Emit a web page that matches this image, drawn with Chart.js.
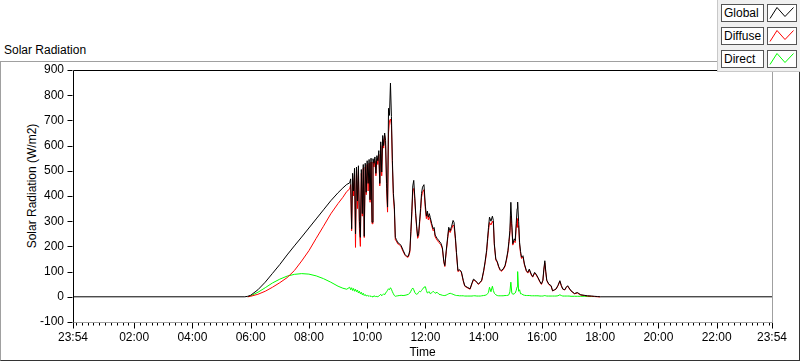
<!DOCTYPE html>
<html>
<head>
<meta charset="utf-8">
<title>Solar Radiation</title>
<script src="https://cdn.jsdelivr.net/npm/chart.js@4.4.0/dist/chart.umd.min.js"></script>
<style>
  body { margin: 0; background: #fff; font-family: 'Liberation Sans', Arial, sans-serif; }
  #wrap { position: relative; width: 800px; height: 361px; overflow: hidden; }
  #frame { position: absolute; left: 0; top: 61px; width: 800px; height: 300px; box-sizing: border-box;
           border-top: 1px solid #a0a0a0; border-left: 1px solid #a0a0a0;
           border-right: 1px solid #333; border-bottom: 1px solid #333; }
  #title { position: absolute; left: 4px; top: 43px; font-size: 12px; color: #000; white-space: nowrap; }
  #ytitle { position: absolute; left: 32px; top: 186px; font-size: 12px; color: #000; white-space: nowrap;
            transform: translate(-50%, -50%) rotate(-90deg); }
  #chart { position: absolute; left: 0; top: 0; }
  #legend { position: absolute; left: 717px; top: 0; width: 83px; height: 72px; box-sizing: border-box;
            background: #f0f0f0; border-left: 1px solid #c8c8c8; border-bottom: 1px solid #c8c8c8; }
  .legend-label { position: absolute; left: 3px; width: 43px; height: 18px; box-sizing: border-box;
                  border: 1px solid #555; background: #fff; font-size: 12px; line-height: 16px; padding-left: 2px;
                  color: #000; white-space: nowrap; overflow: hidden; }
  .legend-swatch { position: absolute; left: 49px; width: 30px; height: 18px; box-sizing: border-box;
                   border: 1px solid #555; background: #fff; }
  .legend-swatch svg { display: block; }
</style>
</head>
<body>
<div id="wrap">
  <div id="frame"></div>
  <div id="title">Solar Radiation</div>
  <div id="ytitle">Solar Radiation (W/m2)</div>
  <canvas id="chart" width="800" height="361"></canvas>
  <div id="legend"></div>
</div>
<script>
// --- data (first sample is 23:54 of the previous day) ---
const times = [
  '23:54', '05:48', '05:54', '06:00', '06:15', '06:30', '06:45', '07:00', '07:15', '07:30', '07:45',
  '08:00', '08:15', '08:30', '08:45', '09:00', '09:10', '09:18', '09:24',
  '09:26', '09:28', '09:30', '09:32', '09:34', '09:36', '09:38', '09:40', '09:42', '09:44', '09:46', '09:48',
  '09:50', '09:52', '09:54', '09:56', '09:58', '10:00', '10:02', '10:04', '10:06', '10:08', '10:10', '10:12',
  '10:14', '10:16', '10:18', '10:20', '10:22', '10:24', '10:26', '10:28', '10:30', '10:32', '10:34', '10:36',
  '10:38', '10:40', '10:42', '10:44', '10:46', '10:48', '10:50', '10:52', '10:54', '10:56', '10:58', '11:00',
  '11:03', '11:06', '11:10', '11:14', '11:18', '11:22', '11:25', '11:28', '11:30', '11:32', '11:34', '11:36',
  '11:38', '11:40', '11:42', '11:44', '11:46', '11:48', '11:50', '11:52', '11:54', '11:57',
  '12:00', '12:02', '12:04', '12:06', '12:08', '12:10', '12:13', '12:16', '12:18', '12:20', '12:24', '12:28',
  '12:32', '12:35', '12:38', '12:40', '12:43', '12:46', '12:48', '12:51', '12:54', '12:57', '12:59',
  '13:02', '13:04', '13:07', '13:10', '13:14', '13:18', '13:21', '13:26', '13:32', '13:36', '13:39', '13:42',
  '13:46', '13:49', '13:53', '13:56',
  '14:00', '14:03', '14:06', '14:08', '14:10', '14:12', '14:15', '14:18', '14:20', '14:22', '14:25', '14:28',
  '14:31', '14:34', '14:36', '14:40', '14:44', '14:47', '14:50', '14:52', '14:54', '14:56', '14:58',
  '15:00', '15:03', '15:05', '15:07', '15:09', '15:10', '15:12', '15:14', '15:16', '15:18', '15:21', '15:24',
  '15:28', '15:31', '15:34', '15:38', '15:41', '15:45', '15:48', '15:52', '15:56', '15:59',
  '16:02', '16:04', '16:06', '16:08', '16:10', '16:14', '16:19', '16:22', '16:26', '16:29', '16:33', '16:37',
  '16:40', '16:43', '16:47', '16:50', '16:53', '16:56',
  '17:00', '17:07', '17:13', '17:20', '17:27', '17:34', '17:42', '17:48', '17:55', '18:00', '23:54'
];

const globalRad = [
  0, 0, 2, 6, 28, 58, 93, 128, 166, 202, 237,
  273, 309, 345, 381, 413, 432, 446, 452,
  468, 270, 490, 420, 510, 250, 515, 380, 520, 300, 236, 505,
  330, 525, 240, 530, 415, 540, 450, 545, 385, 550, 296, 548,
  530, 555, 490, 560, 540, 580, 450, 615, 495, 640, 600, 650,
  620, 449, 356, 748, 720, 848, 715, 540, 410, 360, 236, 228,
  215, 212, 203, 185, 168, 160, 162, 185, 260, 340, 440, 462,
  400, 330, 280, 240, 250, 300, 350, 410, 435, 445,
  360, 320, 340, 316, 330, 315, 290, 270, 275, 245, 232, 222,
  212, 195, 140, 124, 185, 240, 276, 262, 280, 303, 295,
  230, 176, 104, 108, 100, 65, 44, 38, 32, 55, 70, 66,
  58, 51, 58, 66,
  104, 140, 183, 230, 276, 316, 300, 320, 303, 210, 150, 140,
  120, 108, 104, 110, 124, 150, 183, 220, 263, 375, 290,
  211, 230, 223, 290, 350, 376, 300, 216, 180, 157, 163, 130,
  104, 97, 110, 90, 80, 97, 90, 76, 60, 51,
  66, 110, 143, 100, 66, 51, 44, 24, 28, 31, 45, 64,
  45, 31, 28, 38, 44, 35,
  24, 13, 17, 8, 6, 4, 3, 2, 1, 0, 0
];

const diffuseRad = [
  null, null, 0, 2, 10, 22, 38, 56, 76, 104, 142,
  183, 232, 280, 329, 370, 395, 418, 428,
  445, 262, 470, 400, 485, 196, 500, 350, 505, 270, 200, 490,
  320, 510, 235, 515, 405, 525, 420, 530, 375, 535, 290, 535,
  515, 540, 480, 548, 525, 565, 440, 600, 480, 625, 590, 640,
  600, 430, 336, 650, 700, 705, 680, 520, 395, 345, 225, 222,
  210, 208, 198, 180, 165, 157, 158, 178, 250, 325, 420, 430,
  390, 322, 272, 232, 240, 290, 335, 395, 415, 425,
  345, 310, 330, 305, 318, 305, 282, 262, 268, 238, 225, 215,
  206, 190, 136, 120, 180, 232, 265, 255, 270, 285, 280,
  222, 170, 100, 104, 97, 62, 42, 36, 30, 52, 67, 64,
  56, 49, 56, 64,
  100, 135, 176, 220, 262, 295, 285, 300, 290, 205, 146, 136,
  117, 105, 101, 107, 120, 145, 177, 212, 250, 320, 275,
  205, 222, 215, 272, 310, 276, 282, 206, 172, 152, 158, 126,
  101, 94, 106, 87, 78, 94, 87, 74, 58, 49,
  64, 105, 135, 96, 64, 49, 42, 23, 27, 30, 43, 61,
  43, 30, 27, 36, 42, 33,
  23, 12, 15, 7, 5, 3, 2, 1, 0, 0, null
];

const directRad = [
  null, null, 0, 4, 18, 36, 55, 70, 82, 89, 92,
  90, 83, 72, 58, 42, 34, 30, 38,
  28, 36, 25, 33, 22, 30, 20, 27, 15, 22, 12, 18,
  8, 14, 5, 9, 3, 6, 2, 5, 1, 4, 0, 3,
  1, 4, 0, 2, 0, 3, 6, 10, 4, 8, 12, 8,
  15, 20, 26, 32, 28, 36, 30, 20, 12, 5, 2, 3,
  4, 5, 6, 5, 6, 8, 10, 15, 22, 30, 35, 28,
  18, 12, 10, 12, 18, 22, 20, 25, 30, 38,
  40, 25, 15, 18, 20, 12, 16, 22, 18, 14, 18, 10,
  8, 6, 5, 5, 7, 10, 12, 14, 12, 10, 8,
  6, 5, 5, 4, 4, 4, 3, 3, 3, 3, 4, 4,
  3, 3, 3, 4,
  5, 6, 8, 12, 18, 38, 20, 42, 25, 14, 8, 5,
  4, 4, 4, 4, 5, 5, 6, 8, 20, 58, 15,
  10, 12, 15, 25, 40, 100, 22, 28, 12, 12, 8, 6,
  5, 5, 5, 4, 4, 4, 4, 4, 3, 3,
  3, 4, 5, 4, 3, 3, 3, 3, 3, 3, 4, 8,
  5, 3, 3, 3, 3, 3,
  2, 2, 2, 2, 2, 1, 1, 1, null, null, null
];

const seriesNames = ['Global', 'Diffuse', 'Direct'];
const seriesColors = ['#000000', '#ff0000', '#00ff00'];

const xTickLabels = ['23:54', '02:00', '04:00', '06:00', '08:00', '10:00', '12:00',
                     '14:00', '16:00', '18:00', '20:00', '22:00', '23:54'];
const yMin = -100, yMax = 900, yStep = 100;
const minorStep = 12; // minutes between small ticks on the time axis

function toMin(s) {
  const p = s.split(':');
  return Number(p[0]) * 60 + Number(p[1]);
}

// the first entry of each time list belongs to the day before
const minutes = times.map((t, i) => i === 0 ? toMin(t) - 1440 : toMin(t));
const xTickValues = xTickLabels.map((t, i) => i === 0 ? toMin(t) - 1440 : toMin(t));
const xMin = xTickValues[0], xMax = xTickValues[xTickValues.length - 1];

const FONT = "'Liberation Sans', Arial, sans-serif";

function points(values) {
  return minutes.map((m, i) => ({ x: m, y: values[i] }));
}

// Cadre du graphe + graduations (petites et grandes)
const plotFrame = {
  id: 'plotFrame',
  afterDraw(chart) {
    const { ctx, chartArea: a, scales: { x, y } } = chart;
    const L = Math.round(a.left) + 0.5, R = Math.round(a.right) + 0.5;
    const T = Math.round(a.top) + 0.5, B = Math.round(a.bottom) + 0.5;
    ctx.save();
    ctx.lineWidth = 1;

    ctx.strokeStyle = '#000';
    ctx.beginPath();
    y.ticks.forEach(t => {
      const py = Math.round(y.getPixelForValue(t.value)) + 0.5;
      ctx.moveTo(L - 6, py);
      ctx.lineTo(L - 1, py);
    });
    x.ticks.forEach(t => {
      const px = Math.round(x.getPixelForValue(t.value)) + 0.5;
      ctx.moveTo(px, B);
      ctx.lineTo(px, B + 6);
    });
    for (let m = 0; m < xMax; m += minorStep) {
      if (m > 0 && m % 120 === 0) continue;
      const px = Math.round(x.getPixelForValue(m)) + 0.5;
      ctx.moveTo(px, B);
      ctx.lineTo(px, B + 3);
    }
    ctx.stroke();

    ctx.strokeStyle = '#a0a0a0';
    ctx.beginPath();
    ctx.moveTo(L, B); ctx.lineTo(R, B); ctx.lineTo(R, T);
    ctx.stroke();

    ctx.strokeStyle = '#000';
    ctx.beginPath();
    ctx.moveTo(L, B); ctx.lineTo(L, T); ctx.lineTo(R, T);
    ctx.stroke();
    ctx.restore();
  }
};

function buildLegend() {
  const box = document.getElementById('legend');
  box.innerHTML = '';
  seriesNames.forEach((name, i) => {
    const top = 4 + i * 23;
    const label = document.createElement('div');
    label.className = 'legend-label';
    label.style.top = top + 'px';
    label.textContent = name;
    box.appendChild(label);

    const sw = document.createElement('div');
    sw.className = 'legend-swatch';
    sw.style.top = top + 'px';
    sw.innerHTML = `<svg width="28" height="16"><polyline points="2,13.5 9,2.5 17,11.5 25.5,2.5" fill="none" stroke="${seriesColors[i]}" stroke-width="1"/></svg>`;
    box.appendChild(sw);
  });
}

function initChart() {
  const ctx = document.getElementById('chart').getContext('2d');
  const values = [globalRad, diffuseRad, directRad];

  window.myChart = new Chart(ctx, {
    type: 'line',
    data: {
      datasets: seriesNames.map((name, i) => ({
        label: name,
        data: points(values[i]),
        borderColor: seriesColors[i],
        backgroundColor: seriesColors[i],
        borderWidth: 1,
        pointRadius: 0,
        tension: 0,
        fill: false
      }))
    },
    options: {
      responsive: false,
      animation: false,
      events: [],
      layout: { padding: { top: 70, right: 28, left: 0, bottom: 0 } },
      plugins: { legend: { display: false }, tooltip: { enabled: false } },
      scales: {
        x: {
          type: 'linear',
          min: xMin,
          max: xMax,
          grid: { display: false, drawTicks: false },
          border: { display: false },
          afterBuildTicks: s => { s.ticks = xTickValues.map(v => ({ value: v })); },
          afterFit: s => { s.height = 39; },
          ticks: {
            autoSkip: false,
            maxRotation: 0,
            padding: 8,
            color: '#000',
            font: { family: FONT, size: 12 },
            callback: (v, i) => xTickLabels[i]
          },
          title: {
            display: true,
            text: 'Time',
            color: '#000',
            font: { family: FONT, size: 12 },
            padding: { top: 0, bottom: 1 }
          }
        },
        y: {
          min: yMin,
          max: yMax,
          grid: { display: false, drawTicks: false },
          border: { display: false },
          afterFit: s => { s.width = 73; },
          ticks: {
            stepSize: yStep,
            padding: 9,
            color: '#000',
            font: { family: FONT, size: 12 }
          }
        }
      }
    },
    plugins: [plotFrame]
  });
}

buildLegend();
initChart();
</script>
</body>
</html>
